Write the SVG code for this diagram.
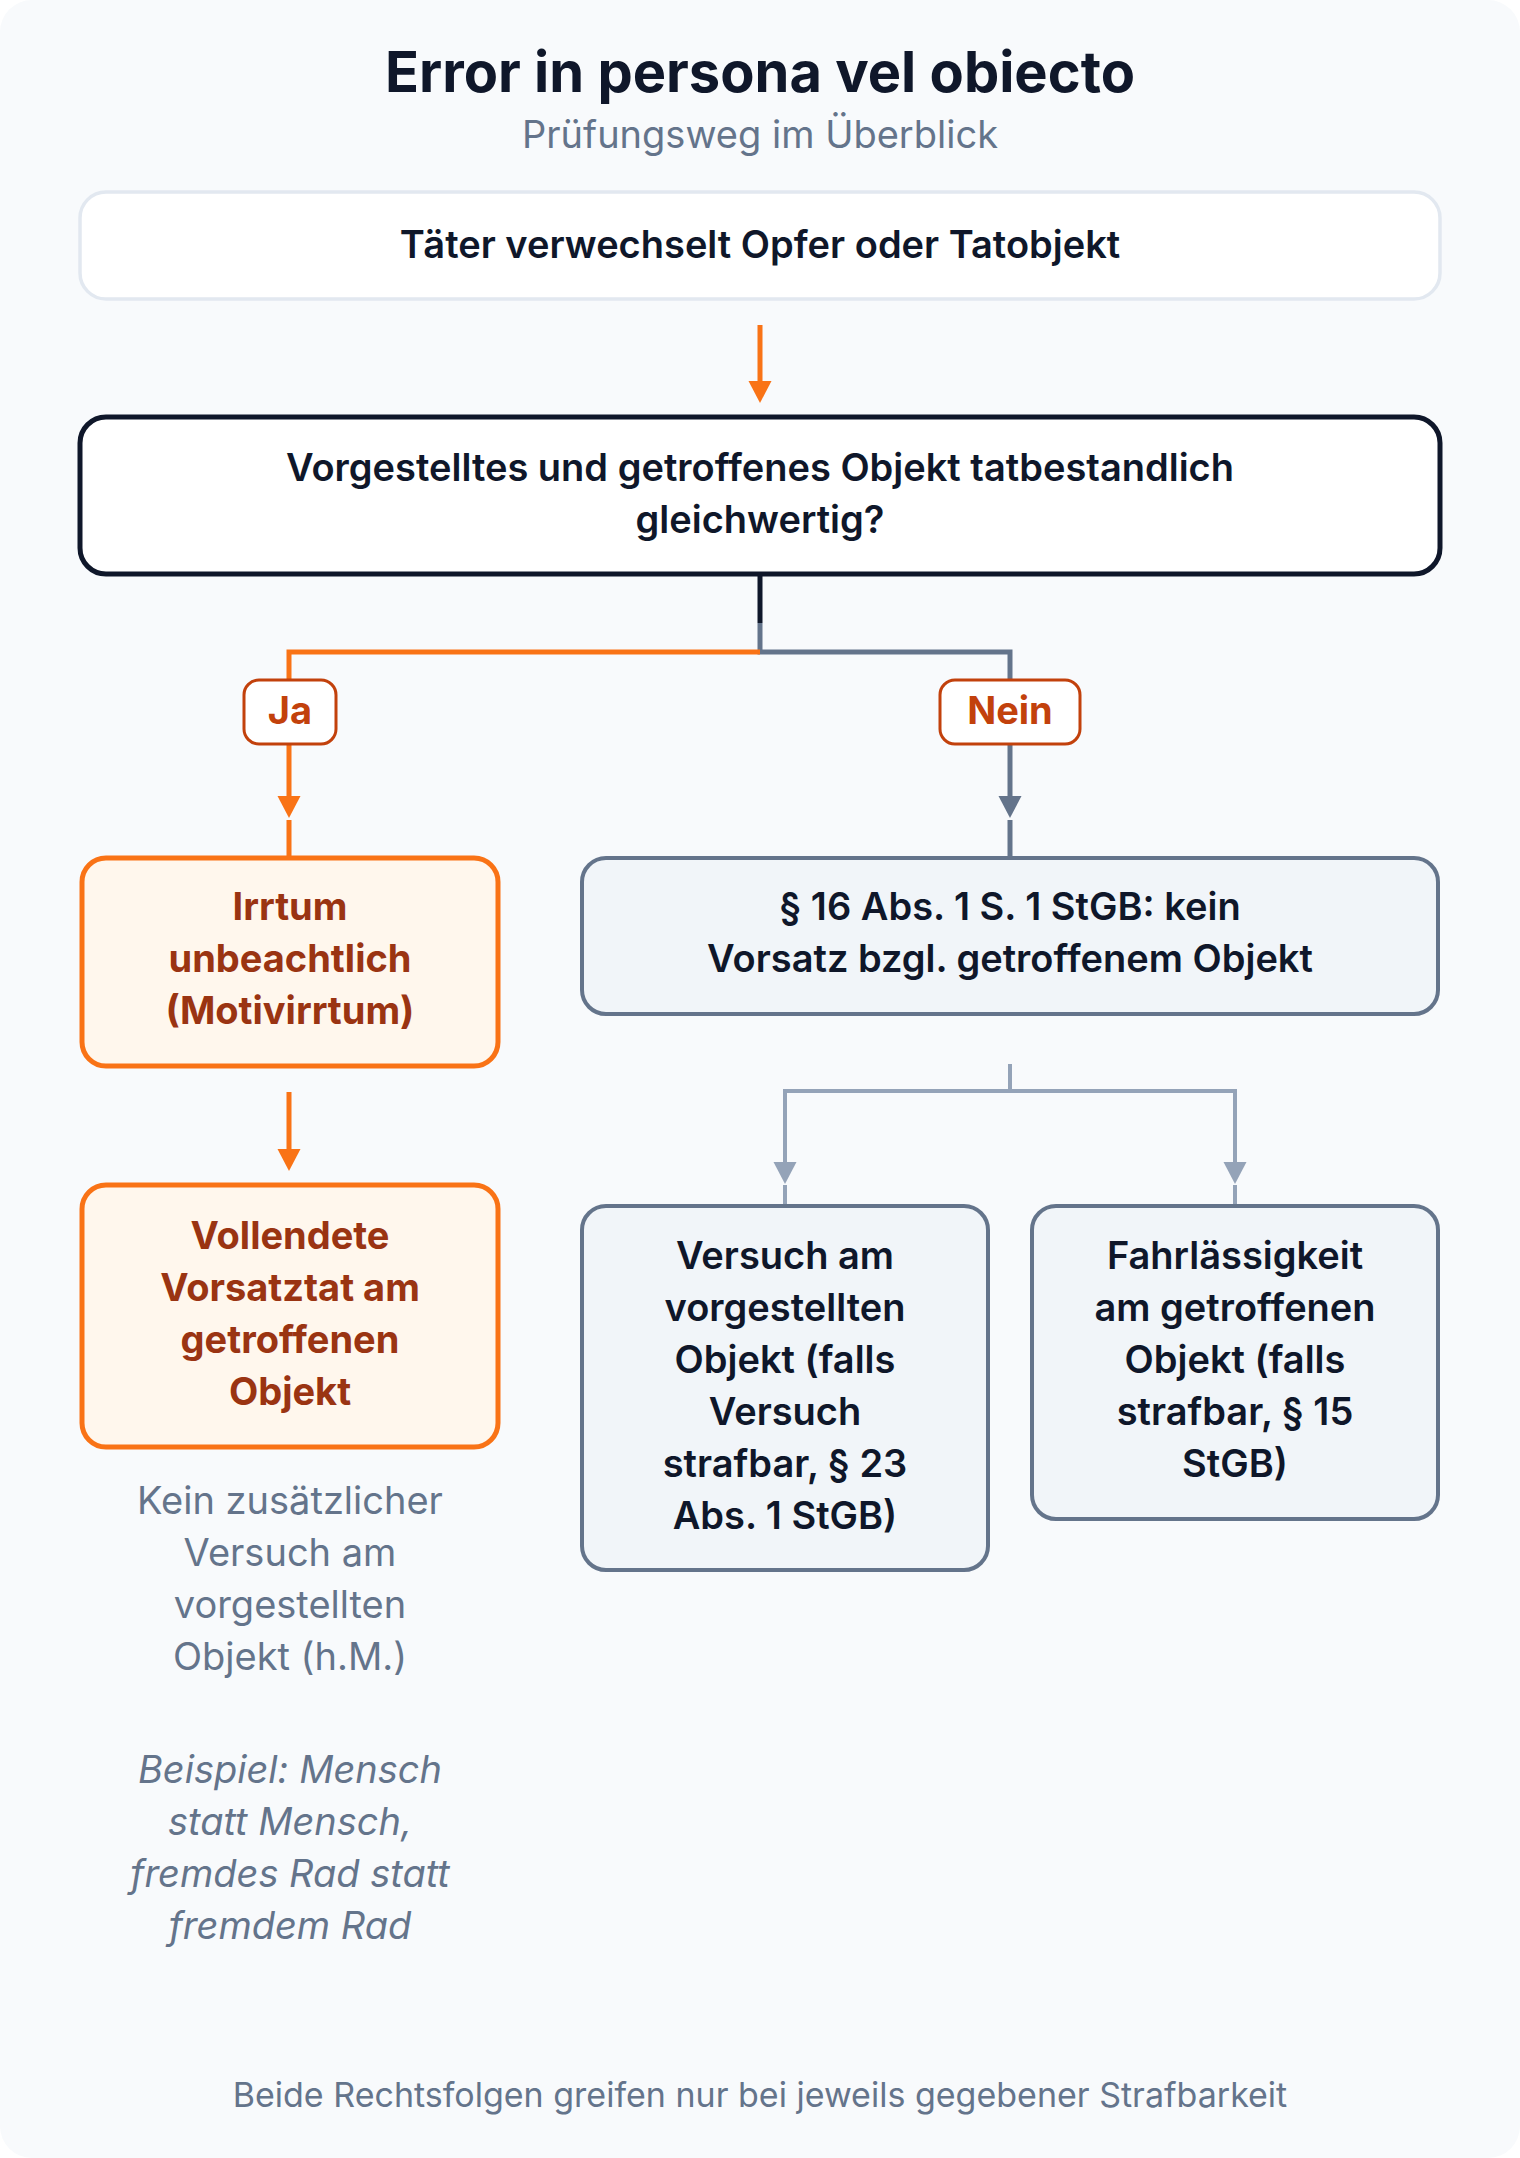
<svg xmlns="http://www.w3.org/2000/svg" width="1520" height="2158" viewBox="0 0 1520 2158">
<style>
text{font-family:Inter,"Noto Sans","Liberation Sans",sans-serif;text-anchor:middle}
.title{font-size:56px;font-weight:700;fill:#0f172a}
.sub{font-size:38px;font-weight:400;fill:#64748b}
.nt{font-size:38px;font-weight:600;fill:#0f172a}
.ot{font-size:38px;font-weight:700;fill:#9a3412}
.lbl{font-size:38px;font-weight:700;fill:#c2410c}
.note{font-size:38px;font-weight:400;fill:#64748b}
.ex{font-size:38px;font-weight:400;font-style:italic;fill:#64748b}
.foot{font-size:34px;font-weight:400;fill:#64748b}
.c{fill:none;stroke-width:5}
.or{stroke:#f97316}
.gr{stroke:#64748b}
.lg{stroke:#94a3b8;stroke-width:4}
.dk{stroke:#0f172a}
</style>
<defs>
<marker id="ao" markerUnits="userSpaceOnUse" markerWidth="24" markerHeight="24" refX="10" refY="11.5" orient="auto"><path d="M0,0 L22,11.5 L0,23 Z" fill="#f97316"/></marker>
<marker id="ag" markerUnits="userSpaceOnUse" markerWidth="24" markerHeight="24" refX="10" refY="11.5" orient="auto"><path d="M0,0 L22,11.5 L0,23 Z" fill="#64748b"/></marker>
<marker id="al" markerUnits="userSpaceOnUse" markerWidth="24" markerHeight="24" refX="10" refY="11.5" orient="auto"><path d="M0,0 L22,11.5 L0,23 Z" fill="#94a3b8"/></marker>
</defs>
<rect x="0" y="0" width="1520" height="2158" fill="#ffffff"/>
<rect x="0" y="0" width="1520" height="2158" rx="32" fill="#f8fafc"/>
<text class="title" x="760" y="92">Error in persona vel obiecto</text>
<text class="sub" x="760" y="148">Prüfungsweg im Überblick</text>

<g id="connectors">
<line class="c or" x1="760" y1="325" x2="760" y2="391" marker-end="url(#ao)"/>
<line class="c dk" x1="760" y1="576" x2="760" y2="623"/>
<polyline class="c gr" points="760,623 760,652 1010,652 1010,680"/>
<polyline class="c or" points="760,652 289,652 289,680"/>
<line class="c or" x1="289" y1="745" x2="289" y2="806" marker-end="url(#ao)"/>
<line class="c or" x1="289" y1="820" x2="289" y2="856"/>
<line class="c gr" x1="1010" y1="745" x2="1010" y2="806" marker-end="url(#ag)"/>
<line class="c gr" x1="1010" y1="820" x2="1010" y2="856"/>
<line class="c or" x1="289" y1="1092" x2="289" y2="1159" marker-end="url(#ao)"/>
<polyline class="c lg" points="1010,1064 1010,1091"/>
<polyline class="c lg" points="785,1171 785,1091 1235,1091 1235,1171"/>
<line class="c lg" x1="785" y1="1171" x2="785" y2="1172" marker-end="url(#al)"/>
<line class="c lg" x1="1235" y1="1171" x2="1235" y2="1172" marker-end="url(#al)"/>
<line class="c lg" x1="785" y1="1185" x2="785" y2="1204"/>
<line class="c lg" x1="1235" y1="1185" x2="1235" y2="1204"/>
</g>

<g id="start">
<rect x="80" y="192" width="1360" height="107" rx="26" fill="#ffffff" stroke="#e2e8f0" stroke-width="3.5"/>
<text class="nt" x="760" y="258">Täter verwechselt Opfer oder Tatobjekt</text>
</g>
<g id="question">
<rect x="80" y="417" width="1360" height="157" rx="26" fill="#ffffff" stroke="#0f172a" stroke-width="5"/>
<text class="nt" x="760" y="481">Vorgestelltes und getroffenes Objekt tatbestandlich</text>
<text class="nt" x="760" y="533">gleichwertig?</text>
</g>
<g id="label-ja">
<rect x="244" y="680" width="92" height="64" rx="15" fill="#ffffff" stroke="#c2410c" stroke-width="3"/>
<text class="lbl" x="290" y="724">Ja</text>
</g>
<g id="label-nein">
<rect x="940" y="680" width="140" height="64" rx="15" fill="#ffffff" stroke="#c2410c" stroke-width="3"/>
<text class="lbl" x="1010" y="724">Nein</text>
</g>
<g id="irrtum">
<rect x="82" y="858" width="416" height="208" rx="24" fill="#fff7ed" stroke="#f97316" stroke-width="5"/>
<text class="ot" x="290" y="920">Irrtum</text>
<text class="ot" x="290" y="972">unbeachtlich</text>
<text class="ot" x="290" y="1024">(Motivirrtum)</text>
</g>
<g id="vorsatz16">
<rect x="582" y="858" width="856" height="156" rx="24" fill="#f1f5f9" stroke="#64748b" stroke-width="4"/>
<text class="nt" x="1010" y="920">§ 16 Abs. 1 S. 1 StGB: kein</text>
<text class="nt" x="1010" y="972">Vorsatz bzgl. getroffenem Objekt</text>
</g>
<g id="vollendet">
<rect x="82" y="1185" width="416" height="262" rx="24" fill="#fff7ed" stroke="#f97316" stroke-width="5"/>
<text class="ot" x="290" y="1249">Vollendete</text>
<text class="ot" x="290" y="1301">Vorsatztat am</text>
<text class="ot" x="290" y="1353">getroffenen</text>
<text class="ot" x="290" y="1405">Objekt</text>
</g>
<g id="versuch">
<rect x="582" y="1206" width="406" height="364" rx="24" fill="#f1f5f9" stroke="#64748b" stroke-width="4"/>
<text class="nt" x="785" y="1269">Versuch am</text>
<text class="nt" x="785" y="1321">vorgestellten</text>
<text class="nt" x="785" y="1373">Objekt (falls</text>
<text class="nt" x="785" y="1425">Versuch</text>
<text class="nt" x="785" y="1477">strafbar, § 23</text>
<text class="nt" x="785" y="1529">Abs. 1 StGB)</text>
</g>
<g id="fahrlaessigkeit">
<rect x="1032" y="1206" width="406" height="313" rx="24" fill="#f1f5f9" stroke="#64748b" stroke-width="4"/>
<text class="nt" x="1235" y="1269">Fahrlässigkeit</text>
<text class="nt" x="1235" y="1321">am getroffenen</text>
<text class="nt" x="1235" y="1373">Objekt (falls</text>
<text class="nt" x="1235" y="1425">strafbar, § 15</text>
<text class="nt" x="1235" y="1477">StGB)</text>
</g>
<g id="note-hm">
<text class="note" x="290" y="1514">Kein zusätzlicher</text>
<text class="note" x="290" y="1566">Versuch am</text>
<text class="note" x="290" y="1618">vorgestellten</text>
<text class="note" x="290" y="1670">Objekt (h.M.)</text>
</g>
<g id="note-beispiel">
<text class="ex" x="290" y="1783">Beispiel: Mensch</text>
<text class="ex" x="290" y="1835">statt Mensch,</text>
<text class="ex" x="290" y="1887">fremdes Rad statt</text>
<text class="ex" x="290" y="1939">fremdem Rad</text>
</g>
<text class="foot" x="760" y="2107">Beide Rechtsfolgen greifen nur bei jeweils gegebener Strafbarkeit</text>
</svg>
